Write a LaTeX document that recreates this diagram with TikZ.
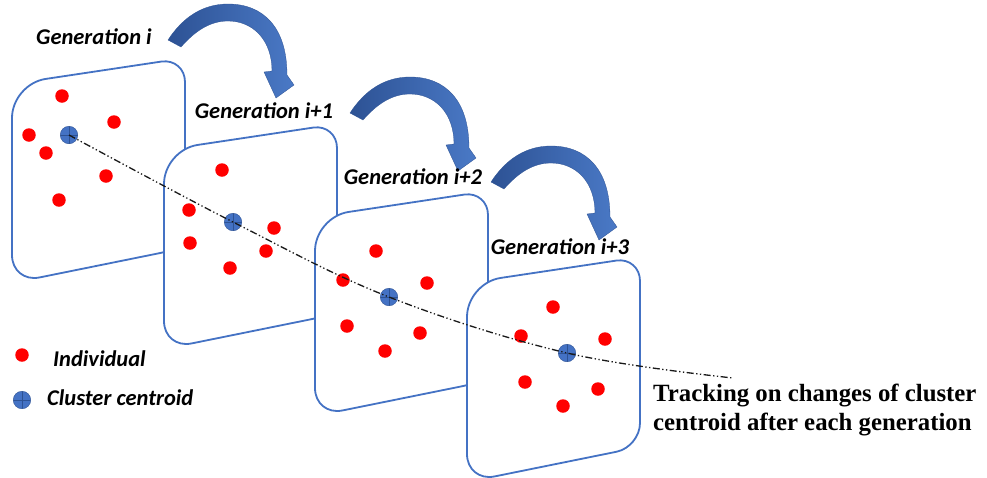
\documentclass[tikz,border=0pt]{standalone}
\usepackage{fontspec}
\setmainfont{Carlito}
\newfontfamily\timesfont{Liberation Serif}
\definecolor{panelblue}{RGB}{68,114,196}
\definecolor{arrowblue}{RGB}{74,121,198}
\definecolor{arrowdark}{RGB}{45,82,148}
\definecolor{dotred}{RGB}{255,0,0}
\definecolor{centroidblue}{RGB}{68,114,196}
\definecolor{trackgray}{RGB}{25,25,25}
\tikzset{
  panelbox/.style={draw=panelblue, line width=1.8pt, fill=white, line join=round},
  indiv/.style={circle, fill=dotred, inner sep=0pt, minimum size=13.5pt},
  centroid/.style={circle, fill=centroidblue, draw=arrowdark, line width=0.4pt, inner sep=0pt, minimum size=17.5pt,
    path picture={\draw[arrowdark, line width=0.6pt]
      (path picture bounding box.north) -- (path picture bounding box.south)
      (path picture bounding box.west) -- (path picture bounding box.east);}},
  gentext/.style={inner sep=0pt, font=\fontsize{22.5}{27}\selectfont\bfseries\itshape},
  legtext/.style={inner sep=0pt, font=\fontsize{22.5}{27}\selectfont\bfseries\itshape},
  track/.style={draw=trackgray, line width=1.3pt, dash pattern=on 7pt off 2.5pt on 1.3pt off 2.5pt on 1.3pt off 2.5pt},
  genarrowstyle/.style={left color=arrowdark, right color=arrowblue, draw=arrowdark, line width=0.3pt}
}
\newcommand\genarrow[2]{%
  \begin{scope}[shift={(#1,#2)}]
    \path[genarrowstyle] (350,113) .. controls (365,90) and (385,77) .. (410,77)
      .. controls (445,77) and (469,100) .. (469,148) -- (476,158) -- (458,171) -- (446,145) -- (454,144)
      .. controls (454,113) and (435,94) .. (410,94)
      .. controls (392,94) and (377,104) .. (363,120) -- cycle;
  \end{scope}}
% panel: skewed card with rounded corners; left edge x=#1, top line meets it at y=#2
\newcommand\panelshape[2]{%
  \begin{scope}[shift={(#1,#2)}]
    \draw[panelbox] (0,34) .. controls (0,15.2) and (15.06,-2.27) .. (33.6,-5.06)
      -- (149.3,-22.43) .. controls (162.4,-24.4) and (173,-15.25) .. (173,-2)
      -- (173,140) .. controls (173,153.25) and (162.5,166.1) .. (149.5,168.75)
      -- (27.44,193.46) .. controls (12.3,196.5) and (0,186.5) .. (0,171) -- cycle;
  \end{scope}}
\begin{document}
\begin{tikzpicture}[x=1pt,y=-1pt]
\useasboundingbox (0,0) rectangle (987,477);
\fill[white] (0,0) rectangle (987,477);

% curved arrows
\genarrow{-182}{-73}
\genarrow{0}{0}
\genarrow{141}{69}

% panel 1
\panelshape{12}{84}
\node[indiv] (a1) at (62,96) {};
\node[indiv] (a2) at (114,122) {};
\node[indiv] (a3) at (29,135) {};
\node[indiv] (a4) at (46,153) {};
\node[indiv] (a5) at (106,176) {};
\node[indiv] (a6) at (59,200) {};
\node[centroid] (c1) at (69,135) {};

% panel 2
\panelshape{164}{150}
\node[indiv] (b1) at (222,170) {};
\node[indiv] (b2) at (189,210) {};
\node[indiv] (b3) at (274,228) {};
\node[indiv] (b4) at (190,243) {};
\node[indiv] (b5) at (266,251) {};
\node[indiv] (b6) at (230,268) {};
\node[centroid] (c2) at (233,222) {};

% panel 3
\panelshape{315}{217}
\node[indiv] (e1) at (376,251) {};
\node[indiv] (e2) at (343,280) {};
\node[indiv] (e3) at (427,283) {};
\node[indiv] (e4) at (347,326) {};
\node[indiv] (e5) at (420,333) {};
\node[indiv] (e6) at (385,351) {};
\node[centroid] (c3) at (389,297) {};

% panel 4
\panelshape{467}{283}
\node[indiv] (f1) at (553,307) {};
\node[indiv] (f2) at (521,336) {};
\node[indiv] (f3) at (605,339) {};
\node[indiv] (f4) at (525,382) {};
\node[indiv] (f5) at (598,389) {};
\node[indiv] (f6) at (563,406) {};
\node[centroid] (c4) at (567,353) {};

% tracking line
\coordinate (tend) at (733,378);
\draw[track] plot[smooth, tension=0.6] coordinates {(c1.center) (c2.center) (c3.center) (c4.center) (tend)};

% generation labels
\node[gentext] (g1) at (94,37) {Generation i};
\node[gentext] (g2) at (264,111) {Generation i+1};
\node[gentext] (g3) at (413,177) {Generation i+2};
\node[gentext] (g4) at (560,247) {Generation i+3};

% legend
\node[indiv] (legdot) at (22,355) {};
\node[legtext, anchor=west] (legind) at (53,359) {Individual};
\node[centroid] (legc) at (22,400) {};
\node[legtext, anchor=west] (legcen) at (47,398) {Cluster centroid};

% tracking text
\node[anchor=base west, align=left, inner sep=0pt,
  font=\timesfont\bfseries\fontsize{24.8}{28.5}\selectfont] (tracktext) at (653,430)
  {Tracking on changes of cluster\\centroid after each generation};
\end{tikzpicture}
\end{document}
